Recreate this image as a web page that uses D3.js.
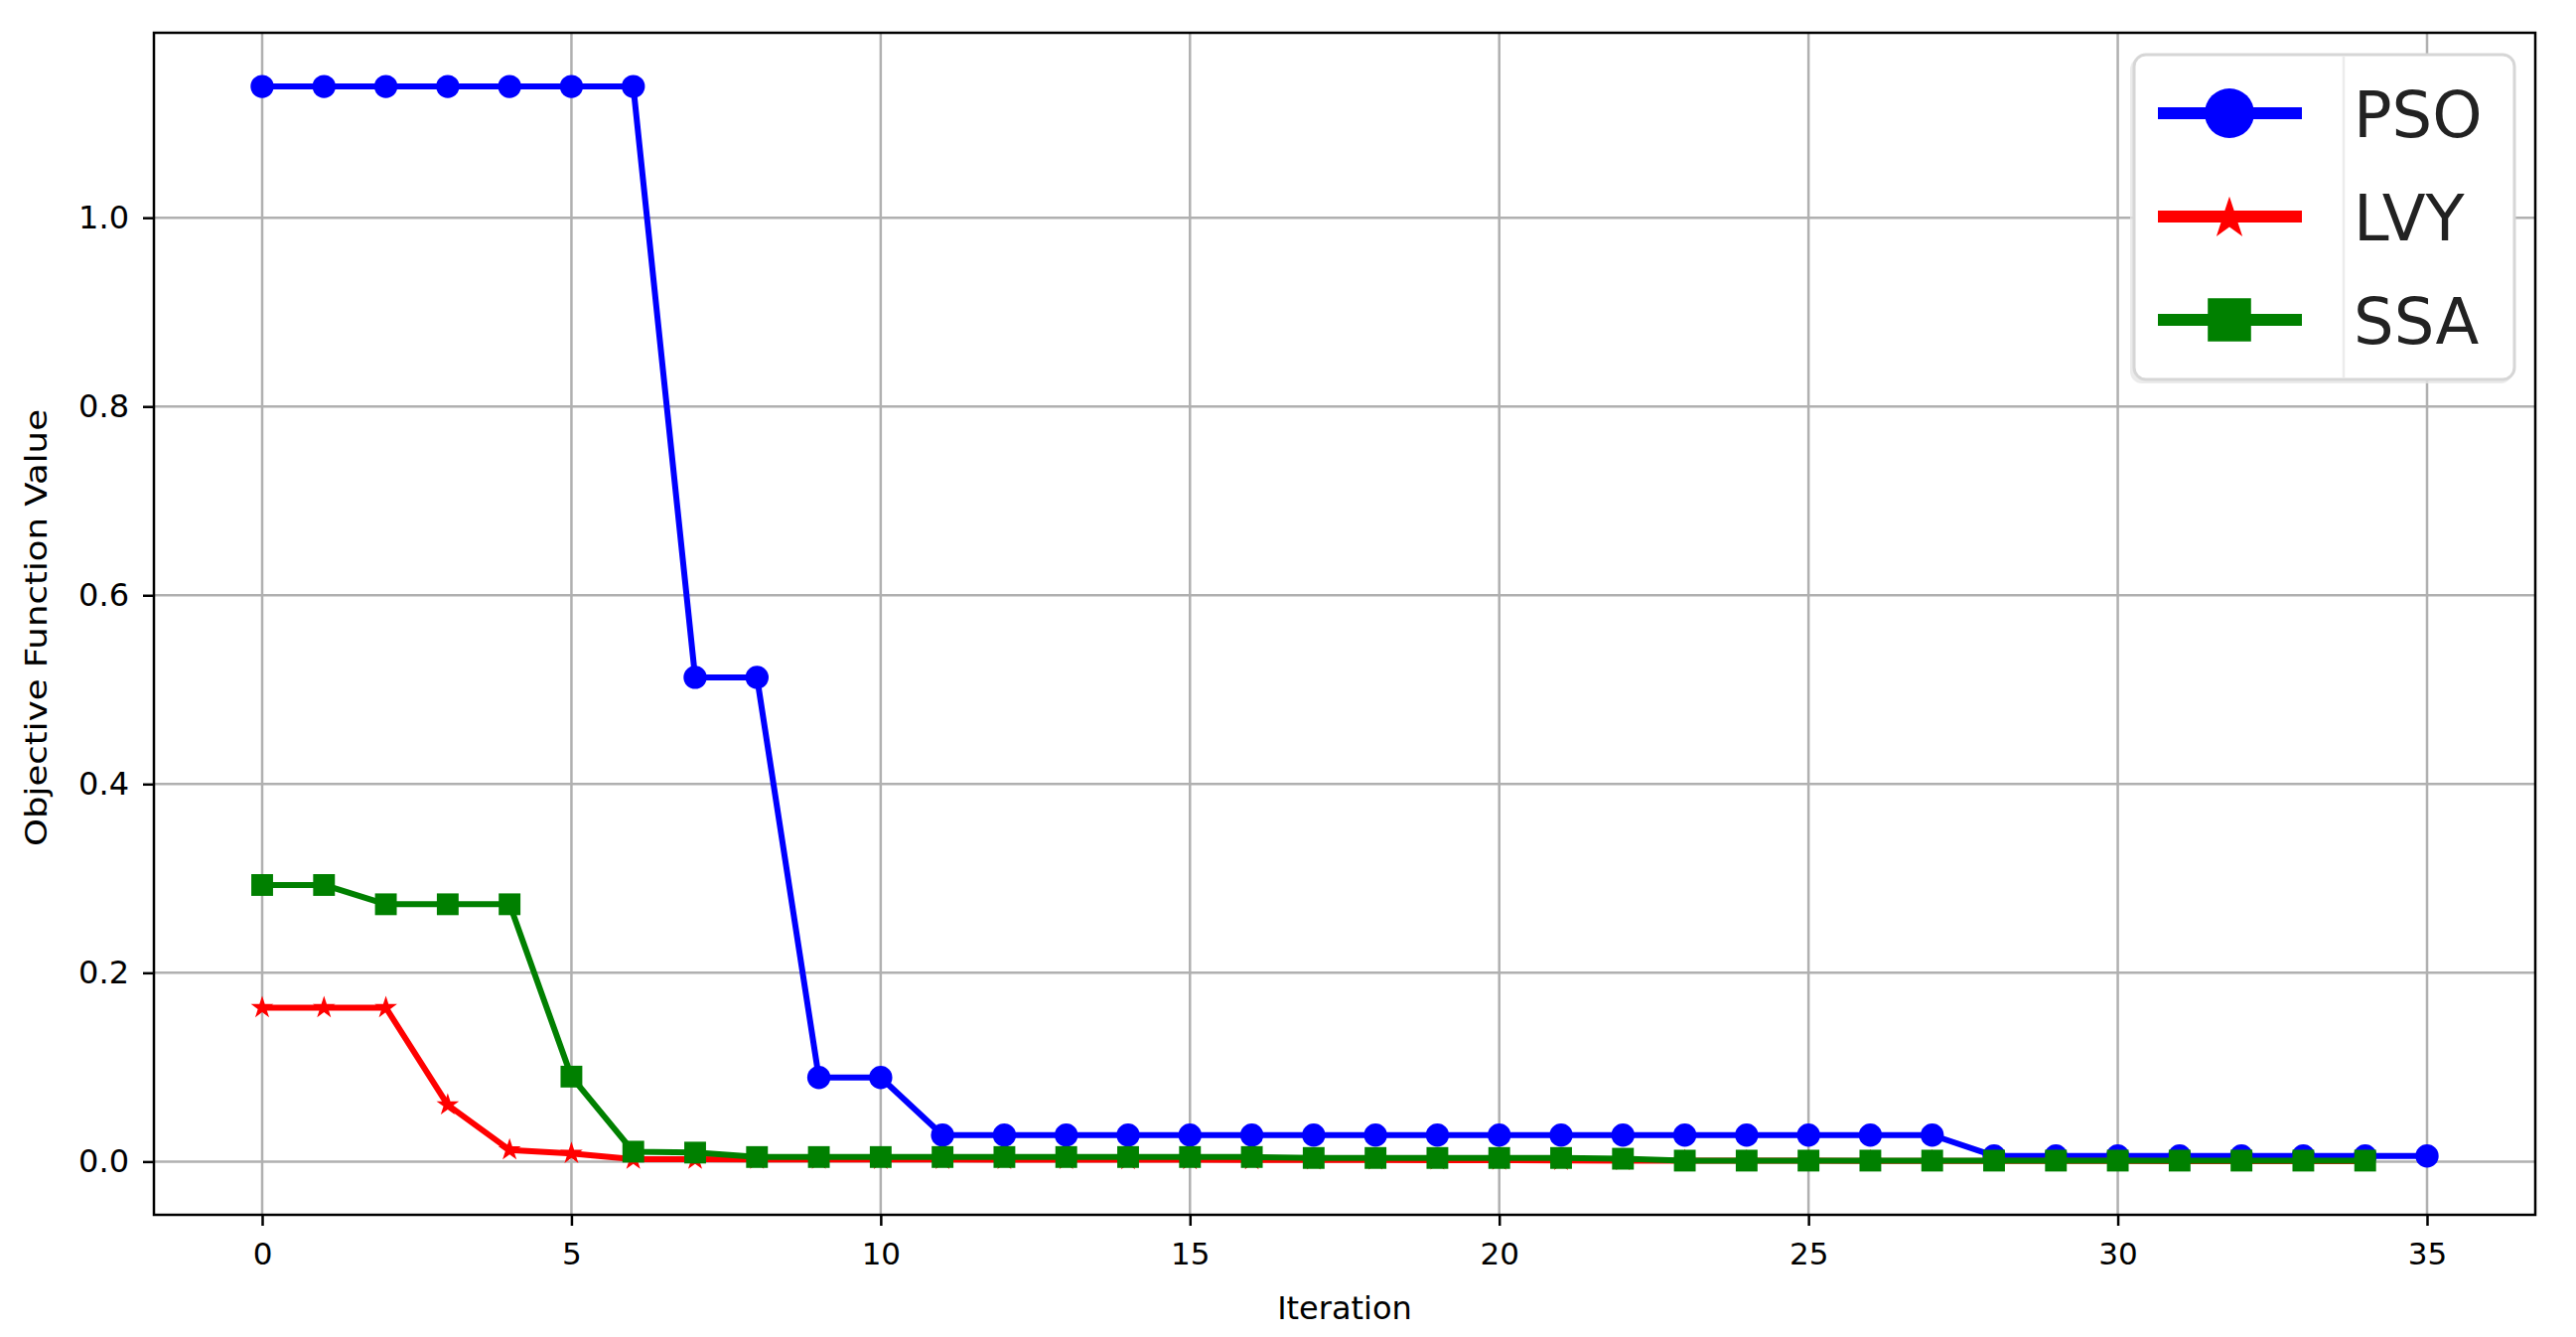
<!DOCTYPE html>
<html>
<head>
<meta charset="utf-8">
<script src="https://cdn.jsdelivr.net/npm/d3@7"></script>
<style>
  html, body { margin: 0; padding: 0; background: #fff; }
  svg { display: block; font-family: "DejaVu Sans", sans-serif; }
</style>
</head>
<body>
<svg id="chart" width="2594" height="1346"></svg>
<script>
// ---- data ----
const psoValues = [1.139, 1.139, 1.139, 1.139, 1.139, 1.139, 1.139, 0.513, 0.513, 0.089, 0.089,
  0.028, 0.028, 0.028, 0.028, 0.028, 0.028, 0.028, 0.028, 0.028, 0.028, 0.028, 0.028, 0.028, 0.028, 0.028, 0.028, 0.028,
  0.006, 0.006, 0.006, 0.006, 0.006, 0.006, 0.006, 0.006];
const lvyValues = [0.163, 0.163, 0.163, 0.060, 0.0123, 0.0085, 0.0024, 0.0024, 0.0023, 0.0023, 0.0022,
  0.0022, 0.0021, 0.0021, 0.002, 0.002, 0.0018, 0.0017, 0.0016, 0.0015, 0.0014, 0.0012,
  0.001, 0.0009, 0.0008, 0.0008, 0.0007, 0.0007, 0.0006, 0.0006, 0.0006, 0.0005, 0.0005, 0.0005, 0.0005];
const ssaValues = [0.293, 0.293, 0.2726, 0.2726, 0.2726, 0.090, 0.0105, 0.0095, 0.0048, 0.0048, 0.0048,
  0.0048, 0.0048, 0.0048, 0.0048, 0.0048, 0.0048, 0.0038, 0.0038, 0.0038, 0.0038, 0.0038,
  0.003, 0.001, 0.001, 0.001, 0.001, 0.001, 0.001, 0.001, 0.001, 0.001, 0.001, 0.001, 0.001];
const seriesNames = ["PSO", "LVY", "SSA"];
const seriesColors = ["#0000ff", "#ff0000", "#008000"];
const seriesMarkers = ["circle", "star", "square"];
const xTicks = [0, 5, 10, 15, 20, 25, 30, 35];
const yTicks = [0.0, 0.2, 0.4, 0.6, 0.8, 1.0];
const xLabel = "Iteration";
const yLabel = "Objective Function Value";

// ---- layout ----
const W = 2594, H = 1346;
const plot = { left: 155, right: 2553, top: 33, bottom: 1223 };
const svg = d3.select("#chart");

const allSeries = [psoValues, lvyValues, ssaValues];
const xMaxData = d3.max(allSeries, s => s.length - 1);
const xPad = xMaxData * 0.05;
const yMin = d3.min(allSeries, s => d3.min(s));
const yMax = d3.max(allSeries, s => d3.max(s));
const yPad = (yMax - yMin) * 0.05;

const x = d3.scaleLinear().domain([0 - xPad, xMaxData + xPad]).range([plot.left, plot.right]);
const y = d3.scaleLinear().domain([yMin - yPad, yMax + yPad]).range([plot.bottom, plot.top]);

// grid
const grid = svg.append("g");
grid.selectAll("line.vx").data(xTicks).join("line")
  .attr("x1", d => x(d)).attr("x2", d => x(d))
  .attr("y1", plot.top).attr("y2", plot.bottom)
  .attr("stroke", "#b0b0b0").attr("stroke-width", 2.5);
grid.selectAll("line.hy").data(yTicks).join("line")
  .attr("y1", d => y(d)).attr("y2", d => y(d))
  .attr("x1", plot.left).attr("x2", plot.right)
  .attr("stroke", "#b0b0b0").attr("stroke-width", 2.5);

// axes
const xAxis = d3.axisBottom(x).tickValues(xTicks).tickFormat(d3.format("d")).tickSize(11).tickPadding(17);
const yAxis = d3.axisLeft(y).tickValues(yTicks).tickFormat(d3.format(".1f")).tickSize(11).tickPadding(14);
const gx = svg.append("g").attr("transform", `translate(0,${plot.bottom})`).call(xAxis);
const gy = svg.append("g").attr("transform", `translate(${plot.left},0)`).call(yAxis);
[gx, gy].forEach(g => {
  g.select(".domain").remove();
  g.selectAll(".tick line").attr("stroke", "#000").attr("stroke-width", 2.5);
  g.selectAll(".tick text").attr("fill", "#000").style("font-size", "31px").style("font-family", "DejaVu Sans");
});
gy.selectAll(".tick text").style("font-size", "32px");

// series
const symbolFor = m => m === "circle" ? d3.symbolCircle : (m === "star" ? d3.symbolStar : d3.symbolSquare);
const sizeFor = m => m === "circle" ? 430 : (m === "star" ? 160 : 480);
const line = d3.line().x((d, i) => x(i)).y(d => y(d));

const plotArea = svg.append("g");
allSeries.forEach((vals, si) => {
  const g = plotArea.append("g");
  g.append("path").datum(vals).attr("d", line)
    .attr("fill", "none").attr("stroke", seriesColors[si]).attr("stroke-width", 6)
    .attr("stroke-linejoin", "round").attr("stroke-linecap", "square");
  g.selectAll("path.mk").data(vals).join("path")
    .attr("class", "mk")
    .attr("transform", (d, i) => `translate(${x(i)},${y(d)})`)
    .attr("d", d3.symbol().type(symbolFor(seriesMarkers[si])).size(sizeFor(seriesMarkers[si])))
    .attr("fill", seriesColors[si]);
});

// frame
svg.append("rect").attr("x", plot.left).attr("y", plot.top)
  .attr("width", plot.right - plot.left).attr("height", plot.bottom - plot.top)
  .attr("fill", "none").attr("stroke", "#000").attr("stroke-width", 2.5);

// axis labels
svg.append("text").attr("x", (plot.left + plot.right) / 2).attr("y", 1328)
  .attr("text-anchor", "middle").style("font-size", "32px").text(xLabel);
svg.append("text").attr("transform", `translate(47,${(plot.top + plot.bottom) / 2 + 4}) rotate(-90)`)
  .attr("text-anchor", "middle").style("font-size", "31px")
  .attr("textLength", 440).attr("lengthAdjust", "spacingAndGlyphs").text(yLabel);

// legend
const lg = svg.append("g");
lg.append("rect").attr("x", 2145).attr("y", 58).attr("width", 385).attr("height", 328)
  .attr("rx", 12).attr("fill", "#e6e6e6").attr("opacity", 0.8);
lg.append("rect").attr("x", 2149).attr("y", 55).attr("width", 383).attr("height", 327)
  .attr("rx", 12).attr("fill", "#fff").attr("stroke", "#d6d6d6").attr("stroke-width", 3);
lg.append("line").attr("x1", 2360).attr("x2", 2360).attr("y1", 57).attr("y2", 380)
  .attr("stroke", "#ececec").attr("stroke-width", 2.5);
const legendRows = [114, 218, 322];
seriesNames.forEach((name, i) => {
  const yy = legendRows[i];
  lg.append("line").attr("x1", 2173).attr("x2", 2318).attr("y1", yy).attr("y2", yy)
    .attr("stroke", seriesColors[i]).attr("stroke-width", 12);
  const m = seriesMarkers[i];
  const sz = m === "circle" ? 1960 : (m === "star" ? 560 : 1900);
  lg.append("path").attr("transform", `translate(2245,${yy + (m === "star" ? 2 : 0)})`)
    .attr("d", d3.symbol().type(symbolFor(m)).size(sz)).attr("fill", seriesColors[i]);
  lg.append("text").attr("x", 2370).attr("y", yy + 24)
    .style("font-size", "64px").attr("fill", "#222").text(name);
});
</script>
</body>
</html>
